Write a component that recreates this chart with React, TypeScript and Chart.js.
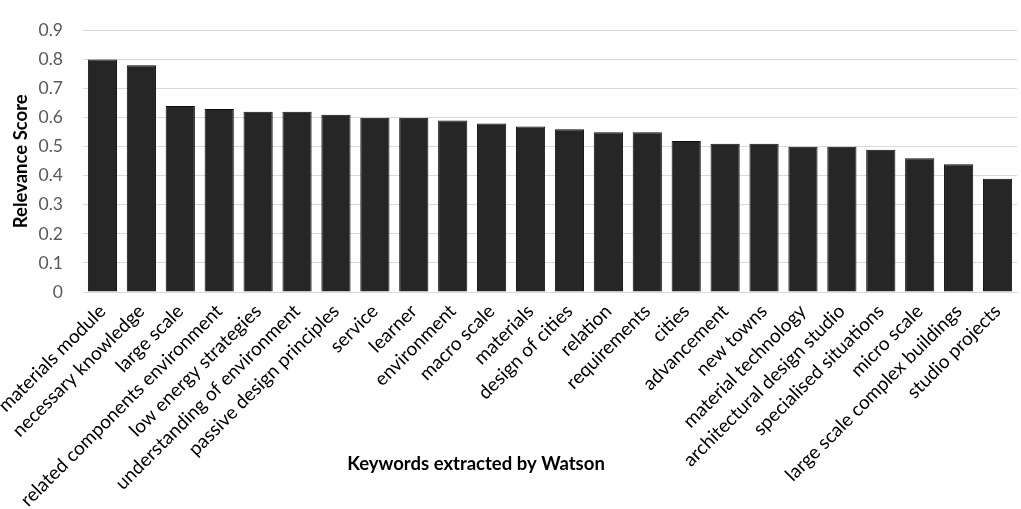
import React, { useEffect, useRef } from 'react';
import { Chart, registerables } from 'chart.js';

Chart.register(...registerables);

const keywords = [
  'materials module',
  'necessary knowledge',
  'large scale',
  'related components environment',
  'low energy strategies',
  'understanding of environment',
  'passive design principles',
  'service',
  'learner',
  'environment',
  'macro scale',
  'materials',
  'design of cities',
  'relation',
  'requirements',
  'cities',
  'advancement',
  'new towns',
  'material technology',
  'architectural design studio',
  'specialised situations',
  'micro scale',
  'large scale complex buildings',
  'studio projects',
];

const relevance = [
  0.8, 0.78, 0.64, 0.63, 0.62, 0.62, 0.61, 0.6, 0.6, 0.59, 0.58, 0.57,
  0.56, 0.55, 0.55, 0.52, 0.51, 0.51, 0.5, 0.5, 0.49, 0.46, 0.44, 0.39,
];

const xTitle = 'Keywords extracted by Watson';
const yTitle = 'Relevance Score';
const fontFamily = 'Lato, "Open Sans", sans-serif';

// Excel puts the x title beside the rotated labels, so both titles are drawn by hand
const titlesPlugin = {
  id: 'axisTitles',
  afterDraw(chart: Chart) {
    const { ctx, chartArea } = chart;
    ctx.save();
    ctx.font = `bold 18.5px ${fontFamily}`;
    ctx.fillStyle = '#000';
    ctx.textAlign = 'center';
    ctx.textBaseline = 'middle';
    ctx.fillText(xTitle, 476, 464);
    ctx.translate(21, (chartArea.top + chartArea.bottom) / 2);
    ctx.rotate(-Math.PI / 2);
    ctx.fillText(yTitle, 0, 0);
    ctx.restore();
  },
};

const BarChart = () => {
  const chartRef = useRef<HTMLCanvasElement>(null);

  useEffect(() => {
    if (!chartRef.current) return;
    const myChart = new Chart(chartRef.current, {
      type: 'bar',
      data: {
        labels: keywords,
        datasets: [
          {
            label: yTitle,
            data: relevance,
            backgroundColor: '#262626',
            borderColor: '#0d0d0d',
            borderWidth: 1,
            barPercentage: 0.75,
            categoryPercentage: 1,
          },
        ],
      },
      options: {
        animation: false,
        responsive: true,
        maintainAspectRatio: false,
        layout: { padding: { top: 11, right: 4, left: 0, bottom: 0 } },
        plugins: {
          legend: { display: false },
          tooltip: { enabled: false },
        },
        scales: {
          x: {
            grid: { display: false },
            border: { color: '#d9d9d9' },
            ticks: {
              color: '#000',
              font: { family: fontFamily, size: 19 },
              maxRotation: 45,
              minRotation: 45,
              autoSkip: false,
              padding: 0,
            },
            afterFit: (scale: any) => {
              scale.height = 217;
              scale.paddingLeft = 0;
              scale.paddingRight = 0;
            },
          },
          y: {
            min: 0,
            max: 0.9,
            grid: { color: '#d9d9d9', drawTicks: false },
            border: { display: false },
            ticks: {
              stepSize: 0.1,
              color: '#595959',
              padding: 20,
              font: { family: fontFamily, size: 17.5 },
              callback: (v) => String(Math.round(Number(v) * 10) / 10),
            },
            afterFit: (scale: any) => {
              scale.width = 83;
            },
          },
        },
      },
      plugins: [titlesPlugin],
    });

    return () => {
      myChart.destroy();
    };
  }, []);

  return (
    <div style={{ position: 'fixed', left: 0, top: 0, width: 1021, height: 509, background: '#fff' }}>
      <canvas ref={chartRef} />
    </div>
  );
};

export default function App() {
  return <BarChart />;
}
